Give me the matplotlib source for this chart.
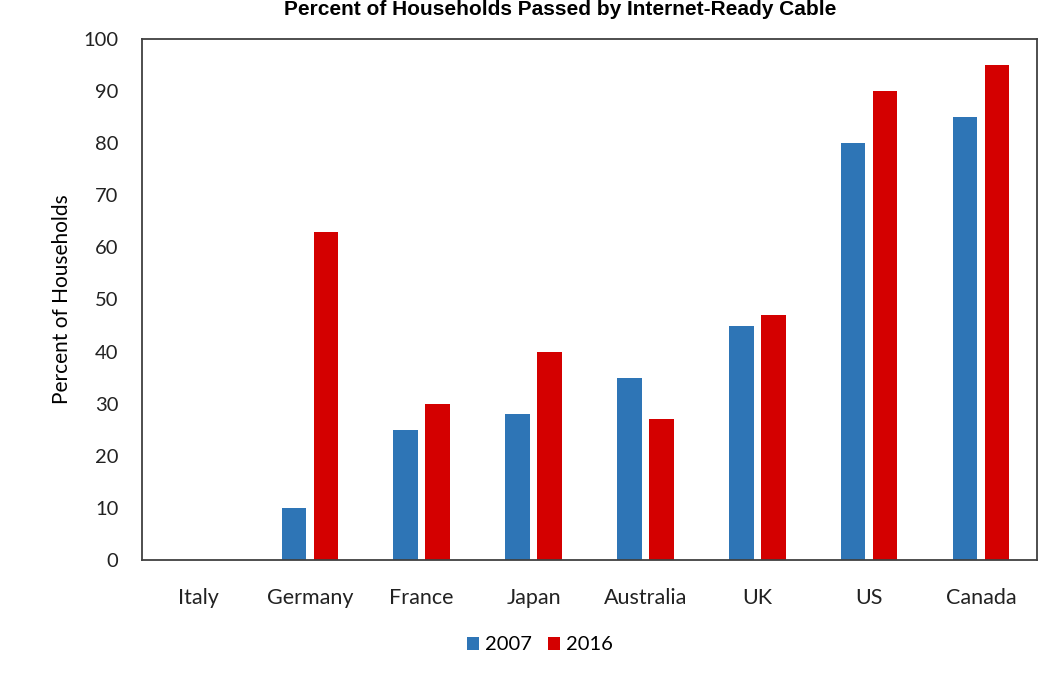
import numpy as np
import matplotlib
matplotlib.use("Agg")
from matplotlib import pyplot as plt

countries = ["Italy", "Germany", "France", "Japan", "Australia", "UK", "US", "Canada"]
pct_2007 = [0, 10, 25, 28, 35, 45, 80, 85]
pct_2016 = [0, 63, 30, 40, 27, 47, 90, 95]
y_ticks = [0, 10, 20, 30, 40, 50, 60, 70, 80, 90, 100]

plt.rcParams["font.family"] = ["Lato", "DejaVu Sans"]

fig = plt.figure(figsize=(10.59, 6.75), dpi=100)
ax = fig.add_axes([142 / 1059, 1 - 560 / 675, (1037 - 142) / 1059, (560 - 39) / 675])

x = np.arange(len(countries))
w = 0.22
ax.bar(x - 0.143, pct_2007, width=w, color="#2E75B6", label="2007")
ax.bar(x + 0.143, pct_2016, width=w, color="#D40000", label="2016")

ax.set_xlim(-0.5, len(countries) - 0.5)
ax.set_ylim(0, 100)
ax.set_yticks(y_ticks)
ax.set_xticks(x)
ax.set_xticklabels(countries)
ax.tick_params(axis="both", length=0, colors="#222222")
ax.tick_params(axis="y", labelsize=14.5, pad=17)
ax.tick_params(axis="x", labelsize=15.5, pad=20)
for s in ax.spines.values():
    s.set_color("#404040")
    s.set_linewidth(1.3)

ax.set_ylabel("Percent of Households", fontsize=15, va="center")
ax.yaxis.set_label_coords(-(142 - 62) / 895, 0.5)

fig.text(560 / 1059, 1 - 15 / 675, "Percent of Households Passed by Internet-Ready Cable",
         ha="center", va="baseline", fontsize=15, fontweight="bold",
         family=["Liberation Sans", "DejaVu Sans"])

fig.legend(loc="center", bbox_to_anchor=(540 / 1059, 1 - 645 / 675), ncol=2,
           frameon=False, fontsize=14.5, handlelength=0.6, handleheight=0.6,
           handletextpad=0.3, columnspacing=0.8)

fig.savefig("out.png", dpi=100)
